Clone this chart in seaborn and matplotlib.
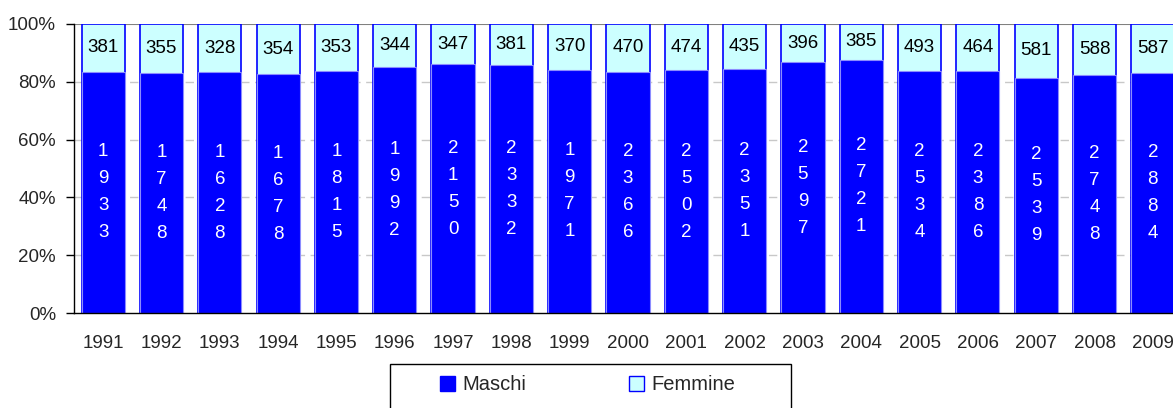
import pandas as pd
import seaborn as sns
import matplotlib.pyplot as plt
from matplotlib.patches import Patch, Rectangle

anni = ["1991", "1992", "1993", "1994", "1995", "1996", "1997", "1998", "1999", "2000",
        "2001", "2002", "2003", "2004", "2005", "2006", "2007", "2008", "2009"]
maschi = [1933, 1748, 1628, 1678, 1815, 1992, 2150, 2332, 1971, 2366,
          2502, 2351, 2597, 2721, 2534, 2386, 2539, 2748, 2884]
femmine = [381, 355, 328, 354, 353, 344, 347, 381, 370, 470,
           474, 435, 396, 385, 493, 464, 581, 588, 587]

sns.set_style("white")
plt.rcParams['font.family'] = ['Liberation Sans', 'DejaVu Sans']

df = pd.DataFrame({"anno": anni, "Maschi": maschi, "Femmine": femmine})
df["tot"] = df["Maschi"] + df["Femmine"]
df["quota_m"] = df["Maschi"] / df["tot"]
df["uno"] = 1.0

BLU = "#0000FF"
CIANO = "#CCFFFF"
FS = 13.5

fig = plt.figure(figsize=(11.73, 4.08), dpi=100)
ax = fig.add_axes([74 / 1173, 1 - 313 / 408, 1108 / 1173, 289 / 408])

# femmine = barra intera (100%), maschi sopra dal basso
sns.barplot(data=df, x="anno", y="uno", color=CIANO, saturation=1, width=0.74,
            edgecolor=BLU, linewidth=1.2, ax=ax, order=anni)
sns.barplot(data=df, x="anno", y="quota_m", color=BLU, saturation=1, width=0.74,
            edgecolor="#8C8CFF", linewidth=0.8, ax=ax, order=anni)

for i, r in df.iterrows():
    ax.text(i, (r["quota_m"] + 1) / 2, str(r["Femmine"]), ha="center", va="center",
            fontsize=FS, color="black")
    ax.text(i, r["quota_m"] / 2, "\n".join(str(r["Maschi"])), ha="center", va="center",
            fontsize=FS, color="white", linespacing=1.77)

ax.set_xlim(-0.5, 18.5)
ax.set_ylim(0, 1)
ax.set_yticks([0, 0.2, 0.4, 0.6, 0.8, 1.0])
ax.set_yticklabels(["0%", "20%", "40%", "60%", "80%", "100%"], fontsize=FS)
ax.set_xticks(range(len(anni)))
ax.set_xticklabels(anni, fontsize=FS)
ax.set_xticks([i - 0.5 for i in range(len(anni) + 1)], minor=True)
ax.tick_params(axis="x", which="major", length=0, pad=16)
ax.tick_params(axis="x", which="minor", length=6, width=1, color="black", direction="out")
ax.tick_params(axis="y", length=6, width=1, color="black", direction="out", pad=7, left=True)
ax.set_xlabel("")
ax.set_ylabel("")

for y in [0.2, 0.4, 0.6, 0.8]:
    ax.axhline(y, color="#C8C8C8", lw=1, ls=(0, (6, 4)), zorder=0)
ax.axhline(1.0, color="#808080", lw=1.5, zorder=0.5)

for s in ["top", "right"]:
    ax.spines[s].set_visible(False)
for s in ["left", "bottom"]:
    ax.spines[s].set_color("black")
    ax.spines[s].set_linewidth(1)

# riquadro della legenda (tagliato in basso come nell'originale)
fig.patches.append(Rectangle((390 / 1173, -0.1), (791 - 390) / 1173, 0.1 + 1 - 364 / 408,
                             transform=fig.transFigure, facecolor="white",
                             edgecolor="black", linewidth=1, zorder=0))

handles = [Patch(facecolor=BLU, edgecolor=BLU, label="Maschi"),
           Patch(facecolor=CIANO, edgecolor=BLU, label="Femmine")]
fig.legend(handles=handles, loc="center left", bbox_to_anchor=(440 / 1173, 1 - 385 / 408),
           ncol=2, fontsize=14.5, frameon=False,
           handlelength=0.75, handleheight=0.75, handletextpad=0.35, columnspacing=5.1,
           borderpad=0, borderaxespad=0)

fig.savefig("out.png", dpi=100)
